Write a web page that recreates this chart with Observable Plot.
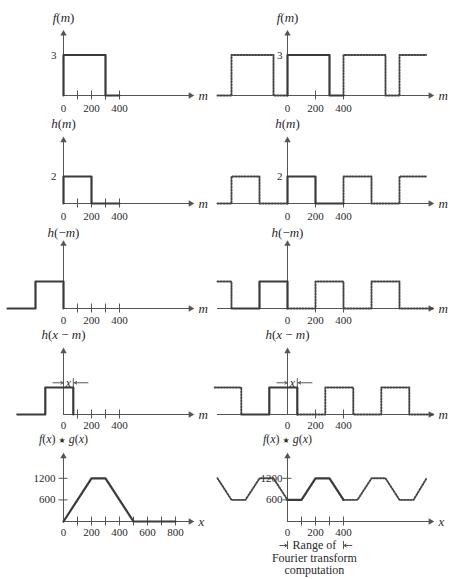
<!DOCTYPE html>
<html><head><meta charset="utf-8">
<script src="https://cdn.jsdelivr.net/npm/d3@7"></script>
<script src="https://cdn.jsdelivr.net/npm/@observablehq/plot@0.6"></script>
<style>
body{margin:0;background:#fff;}
#fig{position:relative;width:450px;height:579px;overflow:hidden;background:#fff;}
#fig svg{position:absolute;overflow:visible;background:transparent;max-width:none;}
</style></head><body><div id="fig"></div>
<script>
// ---------- data (breakpoints of each signal: [m, value]) ----------
const fSolid   = [[0,0],[0,3],[300,3],[300,0],[400,0]];
const fDotted  = [[[-500,0],[-400,0],[-400,3],[-100,3],[-100,0],[0,0]],
                  [[400,0],[400,3],[700,3],[700,0],[800,0],[800,3],[990,3]]];
const hSolid   = [[0,0],[0,2],[200,2],[200,0],[400,0]];
const hDotted  = [[[-500,0],[-400,0],[-400,2],[-200,2],[-200,0],[0,0]],
                  [[400,0],[400,2],[600,2],[600,0],[800,0],[800,2],[990,2]]];
const hrSolid  = [[-400,0],[-200,0],[-200,2],[0,2],[0,0]];
const hrDotted = [[[-500,2],[-400,2],[-400,0]],
                  [[0,0],[200,0],[200,2],[400,2],[400,0],[600,0],[600,2],[800,2],[800,0],[1040,0]]];
const shift    = 70; // the displacement x
const hsSolid  = [[-330,0],[-130,0],[-130,2],[70,2],[70,0]];
const hsDotted = [[[-520,2],[-330,2],[-330,0]],
                  [[70,0],[270,0],[270,2],[470,2],[470,0],[670,0],[670,2],[870,2],[870,0],[1040,0]]];
const convSolid  = [[0,0],[200,1200],[300,1200],[500,0],[800,0]];
const pconvSolid = [[0,600],[100,600],[200,1200],[300,1200],[400,600]];
const pconvDotted= [[[-500,1200],[-400,600],[-300,600],[-200,1200],[-100,1200],[0,600]],
                    [[400,600],[500,600],[600,1200],[700,1200],[800,600],[900,600],[990,1180]]];

const ticksSmall = [100,200,300,400];
const ticksRight = [200,400];
const ticksConv  = [100,200,300,400,500,600,700,800];
const labelsSmall = [0,200,400];
const labelsConv  = [0,200,400,600,800];
const yTicksConv  = [600,1200];
const rangeText = ["Range of","Fourier transform","computation"];

// ---------- layout ----------
const XS = 0.14;            // px per unit of m
const K  = 13.5;            // px per unit, rows 1-4
const K5 = 0.036;           // px per unit, row 5
const AX = "#555", LN = "#3a3a3a", TX = "#2a2a2a";
const SERIF = "Liberation Serif, Times New Roman, serif";

const pts = a => a.map(([m,v]) => ({m, v}));
const segs = arr => arr.flatMap((a,i) => a.map(([m,v]) => ({m, v, s:i})));

const fig = document.getElementById("fig");

// italic letters, upright punctuation, small star
function styleMath(svg, name){
  svg.querySelectorAll("text").forEach(t => {
    if (t.textContent !== name) return;
    t.textContent = "";
    t.setAttribute("font-style", "normal");
    for (const ch of name) {
      const s = document.createElementNS("http://www.w3.org/2000/svg", "tspan");
      s.textContent = ch;
      if (/[a-z]/i.test(ch)) s.setAttribute("font-style", "italic");
      if (ch === "★") { s.setAttribute("font-size", "8"); s.setAttribute("font-family", "DejaVu Sans"); }
      t.appendChild(s);
    }
  });
}

function panel(o){
  const left = o.col === 0 ? 0 : 212;
  const width = o.col === 0 ? 225 : 238;
  const ox = o.col === 0 ? 63 : 75;
  const b = o.base - o.top;
  const k = o.k;
  const xEnd = o.col === 0 ? 929 : 1043;
  const marks = [];
  // x axis
  marks.push(Plot.ruleY([0], {x1: o.xStart, x2: xEnd - 3/XS, stroke: AX, strokeWidth: 1}));
  marks.push(Plot.dot([0], {x: xEnd - 3/XS, y: 0, symbol: "triangle", r: 2.4, rotate: 90, fill: AX, stroke: "none"}));
  marks.push(Plot.ruleX(o.xticks, {y1: -4.5/k, y2: 4.5/k, stroke: AX, strokeWidth: 1}));
  marks.push(Plot.text(o.xlabels, {x: d => d, y: 0, dy: o.tdy ?? 13, text: d => String(d), fontFamily: SERIF, fontSize: 11, fill: TX}));
  marks.push(Plot.text([o.axisName], {x: xEnd, y: 0, dx: 5, textAnchor: "start", fontFamily: SERIF, fontStyle: "italic", fontSize: 13, fill: TX}));
  // y axis
  marks.push(Plot.ruleX([0], {y1: 0, y2: o.yTop - 3/k, stroke: AX, strokeWidth: 1}));
  marks.push(Plot.dot([0], {x: 0, y: o.yTop - 3/k, symbol: "triangle", r: 2.4, fill: AX, stroke: "none"}));
  if (o.yticks) marks.push(Plot.ruleY(o.yticks, {x1: -4.5/XS, x2: 4.5/XS, stroke: AX, strokeWidth: 1}));
  marks.push(Plot.text(o.ylabels, {x: 0, y: d => d, dx: o.ydx, textAnchor: "end", text: d => String(d), fontFamily: SERIF, fontSize: 11, fill: TX}));
  marks.push(Plot.text([o.name], {x: 0, y: 0, dy: -(o.base - o.nameY), fontFamily: SERIF, fontSize: o.nameSize ?? 13, fill: TX}));
  // signals
  if (o.dotted) marks.push(Plot.line(segs(o.dotted), {x: "m", y: "v", z: "s", stroke: "#444", strokeWidth: 1.9, strokeDasharray: "1.4 1.6"}));
  marks.push(Plot.line(pts(o.solid), {x: "m", y: "v", stroke: LN, strokeWidth: 2.2}));
  if (o.extra) marks.push(...o.extra(k));
  const svg = Plot.plot({
    width, height: o.height, margin: 0,
    x: {domain: [-ox/XS, (width-ox)/XS], range: [0, width], axis: null},
    y: {domain: [-(o.height-b)/k, b/k], range: [o.height, 0], axis: null},
    style: {background: "transparent", overflow: "visible"},
    marks
  });
  styleMath(svg, o.name);
  svg.style.left = left + "px";
  svg.style.top = o.top + "px";
  fig.appendChild(svg);
}

// annotation "→|x|←"
const shiftMarks = k => [
  Plot.arrow([0], {x1: -75, y1: 2.35, x2: -2, y2: 2.35, stroke: AX, strokeWidth: 1, headLength: 4}),
  Plot.arrow([0], {x1: 175, y1: 2.35, x2: shift + 8, y2: 2.35, stroke: AX, strokeWidth: 1, headLength: 4}),
  Plot.ruleX([shift], {y1: 2, y2: 2.65, stroke: AX, strokeWidth: 1}),
  Plot.text(["x"], {x: shift/2, y: 2.35, fontFamily: SERIF, fontStyle: "italic", fontSize: 12, fill: TX})
];
// annotation range of Fourier transform computation
const rangeMarks = k => [
  Plot.ruleX([0, 400], {y1: -20/k, y2: -28/k, stroke: AX, strokeWidth: 1}),
  Plot.arrow([0], {x1: -55, y1: -24/k, x2: -3, y2: -24/k, stroke: AX, strokeWidth: 1, headLength: 4}),
  Plot.arrow([0], {x1: 460, y1: -24/k, x2: 403, y2: -24/k, stroke: AX, strokeWidth: 1, headLength: 4}),
  Plot.text(rangeText, {x: 192, y: (d, i) => -(24 + i*12.5)/k, fontFamily: SERIF, fontSize: 12, fill: TX})
];

const rows = [
  {top: 0,   height: 112, base: 95,  nameY: 17,  yTop: 4.8,  name: "f(m)",
   solid: fSolid, dotted: fDotted, ylabels: [3], axisName: "m"},
  {top: 110, height: 112, base: 203, nameY: 123, yTop: 4.9,  name: "h(m)",
   solid: hSolid, dotted: hDotted, ylabels: [2], axisName: "m"},
  {top: 218, height: 112, base: 308, nameY: 232, yTop: 5.0,  name: "h(−m)", tdy: 12,
   solid: hrSolid, dotted: hrDotted, ylabels: [], axisName: "m"},
  {top: 324, height: 116, base: 414, nameY: 334, yTop: 4.9,  name: "h(x − m)", tdy: 11,
   solid: hsSolid, dotted: hsDotted, ylabels: [], axisName: "m", extra: shiftMarks},
];
rows.forEach(r => {
  panel({...r, col: 0, k: K, dotted: null, xStart: 0, xticks: ticksSmall, xlabels: labelsSmall, ydx: -7});
  panel({...r, col: 1, k: K, xStart: -500, xticks: ticksRight, xlabels: labelsSmall, ydx: -5, extra: r.extra});
});
panel({top: 426, height: 153, base: 521, nameY: 439, nameSize: 12, yTop: 1890, name: "f(x) ★ g(x)", col: 0, k: K5,
  solid: convSolid, dotted: null, xStart: 0, xticks: ticksConv, xlabels: labelsConv, tdy: 11,
  yticks: yTicksConv, ylabels: yTicksConv, ydx: -8, axisName: "x"});
panel({top: 426, height: 153, base: 521, nameY: 439, nameSize: 12, yTop: 1890, name: "f(x) ★ g(x)", col: 1, k: K5,
  solid: pconvSolid, dotted: pconvDotted, xStart: 0, xticks: ticksSmall, xlabels: labelsSmall, tdy: 11,
  yticks: yTicksConv, ylabels: yTicksConv, ydx: -5, axisName: "x", extra: rangeMarks});
</script></body></html>
